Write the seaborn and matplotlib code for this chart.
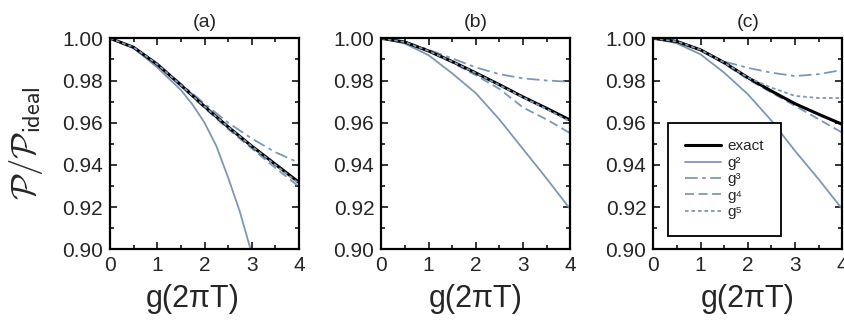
import matplotlib
matplotlib.use("Agg")
import matplotlib.pyplot as plt
from matplotlib.ticker import MultipleLocator, FormatStrFormatter
import seaborn as sns
import pandas as pd
import numpy as np

# ---------------- data ----------------
x = [0, 0.5, 1, 1.5, 2, 2.5, 3, 3.5, 4]

# panel (a)
a_exact = [1.000, 0.9957, 0.9877, 0.9778, 0.9677, 0.9580, 0.9489, 0.9403, 0.9317]
a_g2_x  = [0, 0.5, 1, 1.5, 1.75, 2, 2.25, 2.5, 2.75, 3]
a_g2    = [1.000, 0.9954, 0.9862, 0.9755, 0.9685, 0.9600, 0.9490, 0.9340, 0.9177, 0.8980]
a_g3    = [1.000, 0.9957, 0.9878, 0.9785, 0.9690, 0.9600, 0.9525, 0.9460, 0.9410]
a_g4    = [1.000, 0.9957, 0.9876, 0.9775, 0.9670, 0.9570, 0.9478, 0.9386, 0.9297]
a_g5    = [1.000, 0.9957, 0.9877, 0.9778, 0.9677, 0.9580, 0.9488, 0.9400, 0.9312]

# panel (b)
b_exact = [1.000, 0.9982, 0.9940, 0.9890, 0.9836, 0.9780, 0.9722, 0.9668, 0.9612]
b_g2    = [1.000, 0.9975, 0.9920, 0.9834, 0.9740, 0.9615, 0.9475, 0.9335, 0.9190]
b_g3    = [1.000, 0.9984, 0.9946, 0.9905, 0.9862, 0.9830, 0.9810, 0.9800, 0.9794]
b_g4    = [1.000, 0.9982, 0.9938, 0.9885, 0.9825, 0.9760, 0.9672, 0.9615, 0.9550]
b_g5    = [1.000, 0.9982, 0.9940, 0.9890, 0.9835, 0.9778, 0.9720, 0.9665, 0.9605]

# panel (c)
c_exact = [1.000, 0.9985, 0.9945, 0.9885, 0.9814, 0.9750, 0.9690, 0.9640, 0.9592]
c_g2    = [1.000, 0.9976, 0.9924, 0.9837, 0.9735, 0.9610, 0.9466, 0.9332, 0.9190]
c_g3    = [1.000, 0.9985, 0.9946, 0.9890, 0.9860, 0.9837, 0.9821, 0.9830, 0.9850]
c_g4    = [1.000, 0.9985, 0.9944, 0.9880, 0.9806, 0.9743, 0.9680, 0.9616, 0.9553]
c_g5    = [1.000, 0.9985, 0.9945, 0.9885, 0.9814, 0.9766, 0.9727, 0.9717, 0.9717]

panel_titles = ["(a)", "(b)", "(c)"]
series_names = ["exact", "g2", "g3", "g4", "g5"]
legend_labels = ["exact", "g²", "g³", "g⁴", "g⁵"]
y_ticks = [0.90, 0.92, 0.94, 0.96, 0.98, 1.00]
x_ticks = [0, 1, 2, 3, 4]

panels = [
    {"exact": (x, a_exact), "g2": (a_g2_x, a_g2), "g3": (x, a_g3), "g4": (x, a_g4), "g5": (x, a_g5)},
    {"exact": (x, b_exact), "g2": (x, b_g2), "g3": (x, b_g3), "g4": (x, b_g4), "g5": (x, b_g5)},
    {"exact": (x, c_exact), "g2": (x, c_g2), "g3": (x, c_g3), "g4": (x, c_g4), "g5": (x, c_g5)},
]

# ---------------- style ----------------
sns.set_style("ticks")
plt.rcParams["font.family"] = ["Liberation Sans", "DejaVu Sans"]
plt.rcParams["mathtext.fontset"] = "custom"
plt.rcParams["mathtext.rm"] = "Liberation Sans"
plt.rcParams["mathtext.it"] = "Liberation Sans:italic"
plt.rcParams["mathtext.bf"] = "Liberation Sans:bold"

blue = "#7d97b5"
styles = {
    "exact": dict(color="black", lw=2.2, dashes=None),
    "g2": dict(color=blue, lw=1.3, dashes=None),
    "g3": dict(color=blue, lw=1.3, dashes=(7, 2.5, 2, 2.5)),
    "g4": dict(color=blue, lw=1.3, dashes=(5, 2.5)),
    "g5": dict(color=blue, lw=1.3, dashes=(2, 1.6)),
}

fig = plt.figure(figsize=(8.44, 3.22), dpi=100)
lefts = [110 / 844, 381.3 / 844, 653.3 / 844]
width = 189 / 844
bottom = 1 - 249.3 / 322
height = 211 / 322

for i, (pdata, title) in enumerate(zip(panels, panel_titles)):
    ax = fig.add_axes([lefts[i], bottom, width, height])
    order = ["g2", "g3", "g4", "exact", "g5"]
    handles = {}
    for name in order:
        xv, yv = pdata[name]
        df = pd.DataFrame({"x": xv, "y": yv})
        st = styles[name]
        sns.lineplot(data=df, x="x", y="y", ax=ax, color=st["color"],
                     linewidth=st["lw"], legend=False)
        ln = ax.get_lines()[-1]
        if st["dashes"] is not None:
            ln.set_dashes(st["dashes"])
        handles[name] = ln
    ax.set_xlim(0, 4)
    ax.set_ylim(0.90, 1.00)
    ax.set_xticks(x_ticks)
    ax.set_yticks(y_ticks)
    ax.yaxis.set_major_formatter(FormatStrFormatter("%.2f"))
    ax.xaxis.set_minor_locator(MultipleLocator(0.5))
    ax.yaxis.set_minor_locator(MultipleLocator(0.01))
    ax.tick_params(which="both", direction="in", top=True, right=True,
                   labelsize=15, width=1.3, pad=5)
    ax.tick_params(which="major", length=5)
    ax.tick_params(which="minor", length=3)
    for sp in ax.spines.values():
        sp.set_linewidth(1.6)
        sp.set_color("black")
    ax.set_xlabel("g(2πT)", fontsize=22)
    ax.set_ylabel("")
    ax.set_title(title, fontsize=14, pad=8)
    xc = 0.44 if i == 0 else 0.5
    ax.xaxis.set_label_coords(xc, -0.165, transform=ax.transAxes)
    ax.xaxis.label.set_va("top")
    if i == 0:
        ax.set_ylabel(r"$\mathcal{P}/\mathcal{P}_{\mathsf{ideal}}$", fontsize=25,
                      math_fontfamily="cm")
        ax.yaxis.set_label_coords(-0.445, 0.505, transform=ax.transAxes)
        ax.yaxis.label.set_va("center")
    if i == 2:
        hl = [handles[n] for n in series_names]
        leg = ax.legend(hl, legend_labels, loc="lower left",
                        bbox_to_anchor=(0.078, 0.063), borderaxespad=0,
                        fontsize=11, frameon=True, fancybox=False, framealpha=1,
                        edgecolor="black", handlelength=2.35, handletextpad=0.45,
                        labelspacing=0.16, borderpad=1.1)
        leg.get_frame().set_linewidth(1.3)

fig.savefig("out.png", dpi=100)
